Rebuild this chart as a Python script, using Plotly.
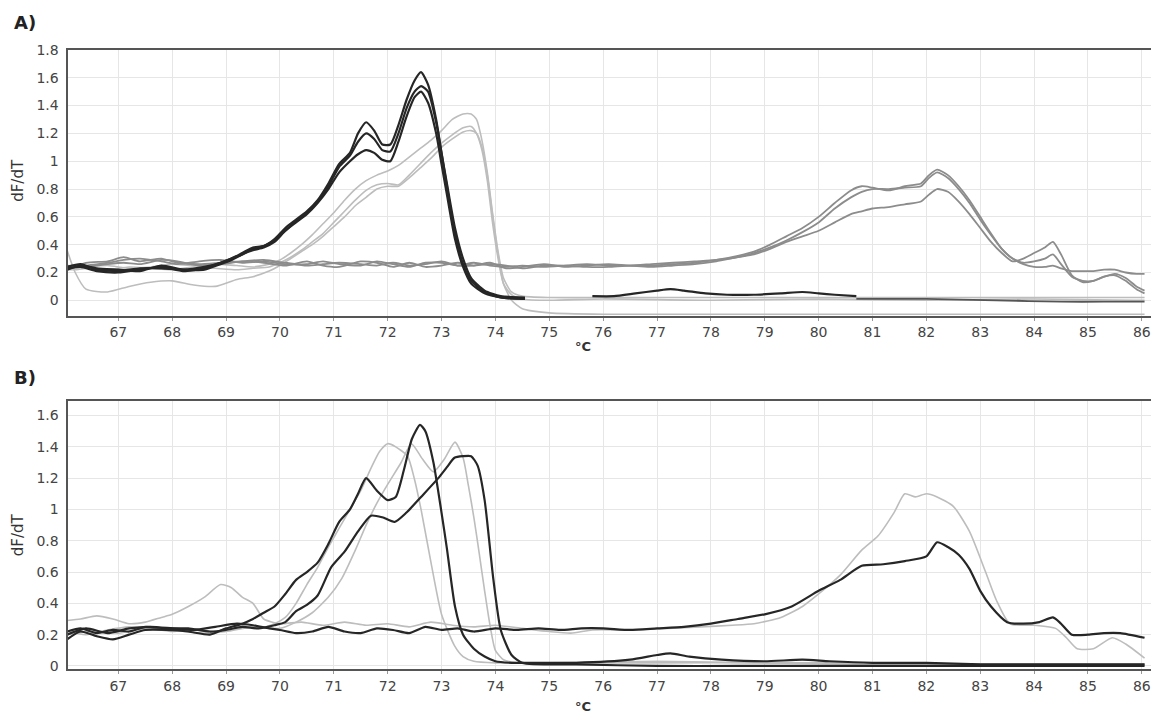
import sys
import plotly.graph_objects as go

# ---------------- Panel A data ----------------
xa_dark = [66.05, 66.3, 66.6, 67.0, 67.4, 67.8, 68.2, 68.6, 68.9, 69.1, 69.3, 69.5, 69.7, 69.9, 70.1, 70.3,
           70.5, 70.7, 70.9, 71.1, 71.3, 71.45, 71.6, 71.75, 71.9, 72.05, 72.2, 72.35, 72.5, 72.62, 72.75,
           72.9, 73.0, 73.1, 73.25, 73.4, 73.55, 73.8, 74.1, 74.55]
ya_dark1 = [0.24, 0.26, 0.22, 0.21, 0.23, 0.23, 0.22, 0.24, 0.27, 0.30, 0.34, 0.38, 0.39, 0.44, 0.52, 0.58,
            0.64, 0.72, 0.84, 0.98, 1.06, 1.20, 1.28, 1.22, 1.12, 1.12, 1.26, 1.44, 1.58, 1.64, 1.55,
            1.30, 1.06, 0.82, 0.48, 0.26, 0.14, 0.06, 0.02, 0.01]
ya_dark2 = [0.23, 0.24, 0.21, 0.20, 0.22, 0.24, 0.21, 0.23, 0.27, 0.30, 0.33, 0.37, 0.39, 0.43, 0.50, 0.57,
            0.63, 0.71, 0.82, 0.96, 1.04, 1.14, 1.20, 1.16, 1.08, 1.07, 1.20, 1.38, 1.50, 1.54, 1.50,
            1.28, 1.06, 0.84, 0.52, 0.30, 0.16, 0.07, 0.03, 0.02]
ya_dark3 = [0.22, 0.25, 0.23, 0.22, 0.21, 0.25, 0.22, 0.22, 0.26, 0.29, 0.33, 0.36, 0.38, 0.42, 0.50, 0.56,
            0.62, 0.70, 0.80, 0.92, 1.00, 1.05, 1.08, 1.06, 1.01, 1.00, 1.14, 1.32, 1.46, 1.50, 1.42,
            1.20, 0.98, 0.76, 0.44, 0.24, 0.12, 0.05, 0.02, 0.01]

xa_tail1 = [75.8, 76.2, 76.6, 77.0, 77.25, 77.5, 77.9, 78.3, 78.8, 79.3, 79.7, 80.0, 80.3, 80.7]
ya_tail1 = [0.03, 0.03, 0.05, 0.07, 0.08, 0.07, 0.05, 0.04, 0.04, 0.05, 0.06, 0.05, 0.04, 0.03]
xa_tail2 = [80.7, 82.0, 83.3, 84.5, 85.3, 86.05]
ya_tail2 = [0.01, 0.01, 0.0, -0.01, -0.01, -0.01]

xa_lg = [66.05, 66.2, 66.4, 66.8, 67.2, 67.6, 68.0, 68.4, 68.8, 69.2, 69.5, 69.8, 70.0, 70.2, 70.4, 70.6,
         70.8, 71.0, 71.2, 71.4, 71.6, 71.8, 72.0, 72.2, 72.4, 72.6, 72.8, 73.0, 73.2, 73.4, 73.55, 73.65,
         73.75, 73.85, 73.95, 74.05, 74.15, 74.3, 74.5, 75.0, 76.0, 78.0, 80.0, 82.0, 84.0, 86.05]
ya_lg1 = [0.24, 0.23, 0.24, 0.25, 0.23, 0.24, 0.26, 0.25, 0.26, 0.25, 0.24, 0.26, 0.29, 0.34, 0.40, 0.47,
          0.55, 0.63, 0.72, 0.80, 0.86, 0.90, 0.93, 0.97, 1.03, 1.09, 1.15, 1.22, 1.30, 1.34, 1.34, 1.30,
          1.15, 0.92, 0.62, 0.35, 0.16, 0.06, 0.03, 0.02, 0.02, 0.02, 0.02, 0.02, 0.02, 0.02]
ya_lg2 = [0.22, 0.22, 0.23, 0.22, 0.24, 0.23, 0.22, 0.24, 0.23, 0.22, 0.23, 0.24, 0.27, 0.31, 0.36, 0.42,
          0.48, 0.56, 0.64, 0.72, 0.79, 0.83, 0.84, 0.83, 0.90, 0.98, 1.06, 1.13, 1.19, 1.24, 1.25, 1.20,
          1.08, 0.86, 0.55, 0.30, 0.12, 0.04, 0.01, 0.00, 0.01, 0.00, 0.01, 0.00, 0.01, 0.00]
ya_lg3 = [0.36, 0.20, 0.08, 0.06, 0.10, 0.13, 0.14, 0.11, 0.10, 0.15, 0.17, 0.21, 0.25, 0.30, 0.35, 0.40,
          0.46, 0.53, 0.60, 0.68, 0.74, 0.80, 0.82, 0.82, 0.88, 0.95, 1.02, 1.10, 1.16, 1.21, 1.22, 1.20,
          1.10, 0.90, 0.60, 0.33, 0.12, 0.00, -0.06, -0.09, -0.10, -0.10, -0.10, -0.10, -0.10, -0.10]

xa_mg = [66.05, 66.4, 66.8, 67.1, 67.4, 67.8, 68.1, 68.5, 68.9, 69.3, 69.7, 70.1, 70.5, 70.8, 71.1, 71.5,
         71.8, 72.1, 72.4, 72.7, 73.0, 73.3, 73.6, 73.9, 74.2, 74.5, 74.9, 75.3, 75.7, 76.1, 76.5, 76.9,
         77.3, 77.7, 78.1, 78.5, 78.8, 79.1, 79.4, 79.7, 80.0, 80.3, 80.6, 80.8, 81.0, 81.3, 81.6, 81.9,
         82.05, 82.2, 82.4, 82.6, 82.8, 83.0, 83.2, 83.4, 83.6, 83.8, 84.0, 84.2, 84.35, 84.5, 84.7, 84.9,
         85.1, 85.3, 85.5, 85.7, 85.9, 86.05]
ya_mg1 = [0.22, 0.27, 0.28, 0.31, 0.28, 0.30, 0.27, 0.26, 0.27, 0.28, 0.27, 0.25, 0.28, 0.25, 0.24, 0.28,
          0.27, 0.24, 0.27, 0.24, 0.25, 0.27, 0.25, 0.27, 0.23, 0.24, 0.26, 0.24, 0.25, 0.26, 0.25, 0.25,
          0.26, 0.27, 0.29, 0.32, 0.35, 0.40, 0.46, 0.52, 0.60, 0.70, 0.79, 0.82, 0.81, 0.79, 0.82, 0.84,
          0.90, 0.94, 0.90, 0.82, 0.72, 0.60, 0.48, 0.37, 0.30, 0.26, 0.24, 0.24, 0.25, 0.23, 0.21, 0.21,
          0.21, 0.22, 0.22, 0.20, 0.19, 0.19]
ya_mg2 = [0.24, 0.25, 0.27, 0.29, 0.30, 0.28, 0.26, 0.28, 0.29, 0.27, 0.28, 0.26, 0.26, 0.28, 0.26, 0.25,
          0.28, 0.26, 0.24, 0.27, 0.27, 0.25, 0.27, 0.25, 0.24, 0.25, 0.24, 0.25, 0.26, 0.25, 0.25, 0.26,
          0.27, 0.28, 0.29, 0.31, 0.34, 0.38, 0.43, 0.49, 0.56, 0.66, 0.74, 0.78, 0.80, 0.80, 0.81, 0.82,
          0.88, 0.92, 0.88, 0.80, 0.70, 0.58, 0.47, 0.37, 0.30, 0.27, 0.28, 0.30, 0.33, 0.26, 0.17, 0.14,
          0.14, 0.17, 0.19, 0.16, 0.10, 0.07]
ya_mg3 = [0.25, 0.24, 0.26, 0.27, 0.26, 0.29, 0.28, 0.25, 0.26, 0.28, 0.29, 0.27, 0.25, 0.26, 0.27, 0.26,
          0.25, 0.27, 0.25, 0.26, 0.28, 0.25, 0.25, 0.26, 0.25, 0.23, 0.25, 0.25, 0.24, 0.24, 0.25, 0.24,
          0.25, 0.26, 0.28, 0.31, 0.33, 0.37, 0.42, 0.46, 0.50, 0.56, 0.62, 0.64, 0.66, 0.67, 0.69, 0.71,
          0.76, 0.80, 0.78, 0.71, 0.62, 0.52, 0.42, 0.34, 0.28, 0.30, 0.34, 0.38, 0.42, 0.33, 0.18, 0.13,
          0.14, 0.17, 0.18, 0.14, 0.08, 0.05]

# ---------------- Panel B data ----------------
xb_dark1 = [66.05, 66.3, 66.6, 66.9, 67.2, 67.5, 67.9, 68.3, 68.7, 69.0, 69.3, 69.5, 69.7, 69.9, 70.1,
            70.3, 70.5, 70.7, 70.9, 71.1, 71.3, 71.45, 71.6, 71.8, 72.0, 72.15, 72.3, 72.45, 72.6, 72.7,
            72.85, 73.0, 73.1, 73.25, 73.4, 73.6, 73.8, 74.0, 74.3, 74.7, 75.5, 76.5, 77.0, 77.25, 77.6,
            78.2, 79.0, 79.7, 80.2, 81.0, 82.0, 83.0, 84.0, 85.0, 86.05]
yb_dark1 = [0.17, 0.22, 0.19, 0.17, 0.20, 0.23, 0.23, 0.22, 0.20, 0.24, 0.27, 0.30, 0.34, 0.38, 0.46,
            0.55, 0.60, 0.66, 0.78, 0.92, 1.00, 1.10, 1.20, 1.12, 1.06, 1.08, 1.25, 1.45, 1.54, 1.50,
            1.30, 0.98, 0.75, 0.38, 0.20, 0.11, 0.06, 0.03, 0.02, 0.02, 0.02, 0.04, 0.07, 0.08, 0.06,
            0.04, 0.03, 0.04, 0.03, 0.02, 0.02, 0.01, 0.01, 0.01, 0.01]

xb_dark2 = [66.05, 66.3, 66.6, 66.9, 67.2, 67.5, 67.9, 68.3, 68.7, 69.0, 69.3, 69.6, 69.9, 70.1, 70.3,
            70.5, 70.7, 70.95, 71.2, 71.45, 71.69, 71.9, 72.13, 72.35, 72.62, 72.94, 73.1, 73.24, 73.4,
            73.55, 73.67, 73.8, 73.96, 74.1, 74.3, 74.5, 75.5, 77.0, 78.5, 80.0, 82.0, 84.0, 86.05]
yb_dark2 = [0.22, 0.24, 0.21, 0.23, 0.22, 0.25, 0.24, 0.24, 0.22, 0.23, 0.25, 0.24, 0.26, 0.28, 0.35,
            0.39, 0.45, 0.63, 0.73, 0.86, 0.96, 0.95, 0.92, 0.98, 1.08, 1.20, 1.27, 1.33, 1.34,
            1.34, 1.28, 1.06, 0.56, 0.23, 0.07, 0.02, 0.01, 0.0, 0.0, 0.0, 0.0, 0.0, 0.0]

xb_dark3 = [66.05, 66.4, 66.8, 67.2, 67.6, 68.0, 68.4, 68.8, 69.2, 69.5, 69.8, 70.0, 70.3, 70.6, 70.9,
            71.2, 71.5, 71.8, 72.1, 72.4, 72.7, 73.0, 73.3, 73.6, 74.0, 74.4, 74.8, 75.2, 75.6, 76.0,
            76.5, 77.0, 77.5, 78.0, 78.5, 79.0, 79.5, 80.0, 80.4, 80.8, 81.2, 81.6, 82.0, 82.2, 82.4,
            82.6, 82.8, 83.0, 83.2, 83.5, 83.8, 84.1, 84.35, 84.5, 84.7, 85.0, 85.3, 85.6, 86.05]
yb_dark3 = [0.20, 0.24, 0.21, 0.24, 0.25, 0.24, 0.23, 0.25, 0.27, 0.26, 0.24, 0.23, 0.21, 0.22, 0.25,
            0.22, 0.21, 0.24, 0.23, 0.21, 0.25, 0.23, 0.24, 0.22, 0.24, 0.23, 0.24, 0.23, 0.24, 0.24,
            0.23, 0.24, 0.25, 0.27, 0.30, 0.33, 0.38, 0.48, 0.55, 0.64, 0.65, 0.67, 0.70, 0.79, 0.76,
            0.71, 0.62, 0.48, 0.38, 0.28, 0.27, 0.28, 0.31, 0.27, 0.20, 0.20, 0.21, 0.21, 0.18]

xb_lg1 = [66.05, 66.4, 66.8, 67.2, 67.6, 68.0, 68.4, 68.8, 69.2, 69.6, 69.9, 70.1, 70.3, 70.5, 70.7,
          70.9, 71.1, 71.3, 71.5, 71.7, 71.85, 72.0, 72.15, 72.37, 72.5, 72.62, 72.81, 73.0, 73.24, 73.4,
          73.6, 74.0, 75.0, 77.0, 79.0, 81.0, 83.0, 86.05]
yb_lg1 = [0.22, 0.20, 0.23, 0.25, 0.24, 0.22, 0.23, 0.22, 0.26, 0.24, 0.27, 0.31, 0.40, 0.52, 0.63,
          0.76, 0.88, 1.00, 1.12, 1.27, 1.37, 1.42, 1.40, 1.34, 1.19, 1.00, 0.65, 0.33, 0.13, 0.06,
          0.03, 0.02, 0.02, 0.03, 0.02, 0.02, 0.01, 0.01]

xb_lg2 = [66.05, 66.5, 67.0, 67.5, 68.0, 68.5, 69.0, 69.5, 70.0, 70.3, 70.6, 70.9, 71.15, 71.4, 71.6,
          71.8, 72.0, 72.25, 72.44, 72.65, 72.85, 73.05, 73.25, 73.4, 73.5, 73.6, 73.7, 73.8, 73.9,
          74.0, 74.15, 74.4, 75.0, 77.0, 79.0, 81.0, 83.0, 86.05]
yb_lg2 = [0.20, 0.22, 0.21, 0.24, 0.23, 0.21, 0.22, 0.25, 0.24, 0.28, 0.34, 0.44, 0.56, 0.74, 0.90,
          1.04, 1.16, 1.30, 1.42, 1.32, 1.24, 1.32, 1.43, 1.33, 1.15, 0.95, 0.72, 0.48, 0.26,
          0.10, 0.04, 0.02, 0.02, 0.02, 0.02, 0.01, 0.01, 0.01]

xb_lg3 = [66.05, 66.3, 66.6, 66.9, 67.2, 67.5, 67.8, 68.0, 68.3, 68.6, 68.9, 69.1, 69.3, 69.5, 69.7,
          70.0, 70.4, 70.8, 71.2, 71.6, 72.0, 72.4, 72.8, 73.2, 73.6, 74.0, 74.5, 75.0, 75.4, 75.8,
          76.5, 77.2, 77.8, 78.4, 78.8, 79.3, 79.7, 80.0, 80.4, 80.8, 81.1, 81.4, 81.6, 81.8, 82.0,
          82.2, 82.5, 82.8, 83.1, 83.3, 83.55, 84.0, 84.4, 84.6, 84.8, 85.1, 85.45, 85.7, 86.05]
yb_lg3 = [0.29, 0.30, 0.32, 0.30, 0.27, 0.28, 0.31, 0.33, 0.38, 0.44, 0.52, 0.50, 0.44, 0.40, 0.30,
          0.27, 0.28, 0.26, 0.28, 0.26, 0.27, 0.25, 0.28, 0.26, 0.25, 0.26, 0.24, 0.22, 0.21, 0.23,
          0.23, 0.24, 0.25, 0.26, 0.27, 0.31, 0.38, 0.46, 0.58, 0.74, 0.83, 0.98, 1.10, 1.08, 1.10,
          1.08, 1.02, 0.86, 0.60, 0.42, 0.27, 0.26, 0.24, 0.18, 0.11, 0.11, 0.18, 0.14, 0.05]

# ---------------- ticks ----------------
x_ticks = list(range(67, 87))
ya_ticks = [0, 0.2, 0.4, 0.6, 0.8, 1, 1.2, 1.4, 1.6, 1.8]
yb_ticks = [0, 0.2, 0.4, 0.6, 0.8, 1, 1.2, 1.4, 1.6]

DARK = "#262626"
MID = "#8c8c8c"
LIGHT = "#bdbdbd"

fig = go.Figure()


def add(x, y, color, width, panel):
    if len(x) != len(y):
        print("length mismatch", len(x), len(y), file=sys.stderr)
    xa = "x" if panel == "A" else "x2"
    ya = "y" if panel == "A" else "y2"
    fig.add_trace(go.Scatter(x=x, y=y, mode="lines", xaxis=xa, yaxis=ya,
                             line=dict(color=color, width=width, shape="spline", smoothing=0.6),
                             showlegend=False, hoverinfo="skip"))


# Panel A: draw light, then mid, then dark on top
add(xa_lg, ya_lg3, LIGHT, 1.6, "A")
add(xa_lg, ya_lg2, LIGHT, 1.6, "A")
add(xa_lg, ya_lg1, LIGHT, 1.6, "A")
add(xa_tail2, ya_tail2, "#555555", 1.8, "A")
add(xa_tail1, ya_tail1, DARK, 2.2, "A")
add(xa_mg, ya_mg3, MID, 1.8, "A")
add(xa_mg, ya_mg2, MID, 1.8, "A")
add(xa_mg, ya_mg1, MID, 1.8, "A")
add(xa_dark, ya_dark3, DARK, 2.2, "A")
add(xa_dark, ya_dark2, DARK, 2.2, "A")
add(xa_dark, ya_dark1, DARK, 2.2, "A")

# Panel B
add(xb_lg3, yb_lg3, LIGHT, 1.6, "B")
add(xb_lg2, yb_lg2, LIGHT, 1.6, "B")
add(xb_lg1, yb_lg1, LIGHT, 1.6, "B")
add(xb_dark3, yb_dark3, DARK, 2.2, "B")
add(xb_dark2, yb_dark2, DARK, 2.2, "B")
add(xb_dark1, yb_dark1, DARK, 2.2, "B")

W, H = 1151, 717
FONT = "DejaVu Sans"
TICKC = "#444444"
GRID = "#e6e6e6"
AXL = "#555555"

xcommon = dict(range=[66.057, 86.17], tickvals=x_ticks, showgrid=True, gridcolor=GRID, gridwidth=1,
               showline=True, linecolor=AXL, linewidth=2, mirror=True, zeroline=False,
               ticks="outside", ticklen=3, tickcolor="#999999",
               tickfont=dict(family=FONT, size=14, color=TICKC), domain=[67.5 / W, 1.0])
ycommon = dict(showgrid=True, gridcolor=GRID, gridwidth=1, showline=True, linecolor=AXL, linewidth=2,
               zeroline=False, ticks="", tickfont=dict(family=FONT, size=14, color=TICKC),
               ticklabelstandoff=4)

fig.update_layout(
    width=W, height=H, margin=dict(l=0, r=0, t=0, b=0),
    paper_bgcolor="white", plot_bgcolor="white",
    xaxis=dict(**xcommon, anchor="y"),
    yaxis=dict(**ycommon, range=[-0.11, 1.80], tickvals=ya_ticks,
               ticktext=[str(v) for v in ya_ticks],
               domain=[1 - 313.3 / H, 1 - 42.7 / H], anchor="x"),
    xaxis2=dict(**xcommon, anchor="y2"),
    yaxis2=dict(**ycommon, range=[-0.02, 1.69], tickvals=yb_ticks,
                ticktext=[str(v) for v in yb_ticks],
                domain=[1 - 673.3 / H, 1 - 400.7 / H], anchor="x2"),
)

ann = [
    dict(text="<b>A)</b>", x=12 / W, y=1 - 15 / H, xanchor="left", yanchor="middle",
         font=dict(family=FONT, size=18, color="#222222")),
    dict(text="<b>B)</b>", x=12 / W, y=1 - 376 / H, xanchor="left", yanchor="middle",
         font=dict(family=FONT, size=18, color="#222222")),
    dict(text="dF/dT", x=18 / W, y=1 - 176 / H, textangle=-90, xanchor="center", yanchor="middle",
         font=dict(family=FONT, size=15, color="#333333")),
    dict(text="dF/dT", x=18 / W, y=1 - 537 / H, textangle=-90, xanchor="center", yanchor="middle",
         font=dict(family=FONT, size=15, color="#333333")),
    dict(text="<b>°C</b>", x=583 / W, y=1 - 345 / H, xanchor="center", yanchor="middle",
         font=dict(family=FONT, size=13, color="#333333")),
    dict(text="<b>°C</b>", x=583 / W, y=1 - 711 / H, xanchor="center", yanchor="middle",
         font=dict(family=FONT, size=13, color="#333333")),
]
for a in ann:
    a.update(xref="paper", yref="paper", showarrow=False)
fig.update_layout(annotations=ann)

fig.write_html("out.html")
